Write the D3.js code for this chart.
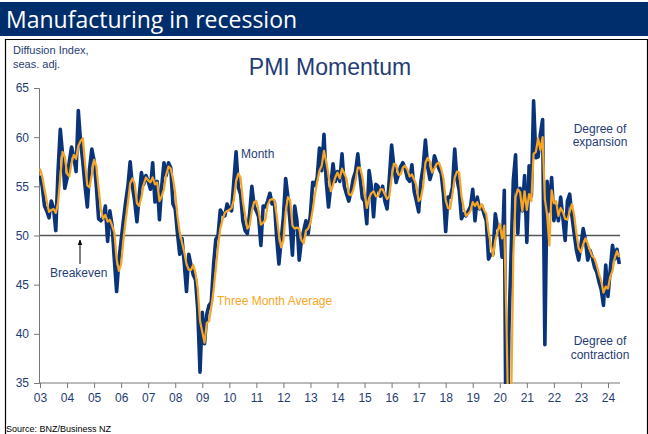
<!DOCTYPE html>
<html>
<head>
<meta charset="utf-8">
<script src="https://d3js.org/d3.v7.min.js"></script>
<style>
body { margin: 0; background: #fff; }
svg { display: block; font-family: "Liberation Sans", Arial, sans-serif; }
</style>
</head>
<body>
<script>
// PMI, seasonally adjusted, monthly from Jan 2003
const yearLabels = ["03","04","05","06","07","08","09","10","11","12","13","14",
                    "15","16","17","18","19","20","21","22","23","24"];
const yTicks = [35, 40, 45, 50, 55, 60, 65];

const pmiMonth = [
  56.1,55.0,53.0,52.5,51.8,53.5,52.8,50.5,56.5,60.8,58.3,54.8, // 03
  55.8,57.5,59.0,58.0,56.5,62.7,59.5,57.5,55.0,52.9,56.8,58.8, // 04
  57.6,55.0,51.7,51.5,51.8,53.0,49.4,52.5,51.0,47.5,44.3,47.5, // 05
  49.5,51.5,53.4,55.0,57.5,55.0,53.5,51.4,54.0,56.4,55.2,56.1, // 06
  55.5,54.7,57.4,53.4,55.5,51.6,55.0,57.4,56.1,57.4,56.9,53.2, // 07
  52.7,50.2,48.1,49.7,47.2,44.3,48.1,47.0,46.0,45.5,42.4,36.1, // 08
  42.2,39.0,42.0,42.9,43.2,47.0,49.6,50.0,52.6,52.2,52.0,53.2, // 09
  52.7,52.5,55.5,58.5,54.9,54.2,51.5,50.5,50.2,52.2,55.0,53.0, // 10
  52.5,51.9,49.0,53.0,52.9,53.5,54.3,53.2,53.4,49.8,47.1,49.5, // 11
  51.9,55.8,53.9,51.2,48.0,53.0,51.5,47.5,49.5,50.5,51.5,50.2, // 12
  52.2,55.4,55.1,55.9,58.9,56.6,60.3,55.5,52.9,55.0,57.3,55.5, // 13
  56.5,55.5,58.3,55.0,54.2,53.5,54.5,55.8,56.5,58.3,56.0,53.8, // 14
  53.5,51.2,56.6,55.0,51.9,55.2,55.0,54.0,55.0,53.5,52.7,55.8, // 15
  59.2,57.0,55.4,56.2,57.0,57.4,56.8,55.8,55.5,57.2,54.5,53.5, // 16
  52.4,55.5,57.0,59.7,57.0,55.7,56.5,58.1,57.4,56.8,56.3,54.2, // 17
  50.4,53.9,53.9,54.9,58.8,55.7,54.6,51.7,52.2,52.0,52.5,52.9, // 18
  54.7,51.5,53.9,52.7,53.0,52.2,51.5,47.6,48.1,48.1,52.2,50.8, // 19
  50.5,47.8,54.6,20.0,40.0,48.0,55.6,58.2,50.2,54.8,52.5,56.1, // 20
  49.3,57.1,54.0,63.7,57.9,58.0,60.3,61.8,38.9,55.5,52.5,55.9, // 21
  51.5,53.0,51.5,53.9,51.8,49.5,53.5,54.2,52.0,50.2,48.5,47.5, // 22
  49.0,50.7,49.5,47.5,48.5,47.8,46.8,46.3,45.3,44.5,42.9,47.0, // 23
  43.8,46.5,49.0,47.6,48.6,47.1                                // 24
];

const pmiThreeMonth = [
  56.8,56.0,54.7,53.5,52.4,52.6,52.7,52.3,53.3,55.9,58.5,58.0,
  56.3,56.0,57.4,58.2,57.8,59.1,59.6,59.9,57.3,55.1,54.9,56.2,
  57.7,57.1,54.8,52.7,51.7,52.1,51.4,51.6,51.0,50.3,47.6,46.4,
  47.1,49.5,51.5,53.3,55.3,55.8,55.3,53.3,53.0,53.9,55.2,55.9,
  55.6,55.4,55.9,55.2,55.4,53.5,54.0,54.7,56.2,57.0,56.8,55.8,
  54.3,52.0,50.3,49.3,48.3,47.1,46.5,46.5,47.0,46.2,44.6,41.3,
  40.2,39.1,41.1,41.3,42.7,44.4,46.6,48.9,50.7,51.6,52.3,52.5,
  52.6,52.8,53.6,55.5,56.3,55.9,53.5,52.1,50.7,51.0,52.5,53.4,
  53.5,52.5,51.1,51.3,51.6,53.1,53.6,53.7,53.6,52.1,50.1,48.8,
  49.5,52.4,53.9,53.6,51.0,50.7,50.8,50.7,49.5,49.2,50.5,50.7,
  51.3,52.6,54.2,55.5,56.6,57.1,58.6,57.5,56.2,54.5,55.1,55.9,
  56.4,55.8,56.8,56.3,55.8,54.2,54.1,54.6,55.6,56.9,56.9,56.0,
  54.4,52.8,53.8,54.3,54.5,54.0,54.0,54.7,54.7,54.2,53.7,54.0,
  55.9,57.3,57.2,56.2,56.2,56.9,57.1,56.7,56.0,56.2,55.7,55.1,
  53.5,53.8,55.0,57.4,57.9,57.5,56.4,56.8,57.3,57.4,56.8,55.8,
  53.6,52.8,52.7,54.2,55.9,56.5,56.4,54.0,52.8,52.0,52.2,52.5,
  53.4,53.0,53.4,52.7,53.2,52.6,52.2,50.4,49.1,47.9,49.5,50.4,
  51.2,49.7,51.0,40.8,28.0,32.0,47.9,53.9,54.7,54.4,52.5,54.5,
  52.6,54.2,53.5,58.3,58.5,59.9,58.7,60.0,53.7,52.1,49.0,54.6,
  53.3,53.5,52.0,52.8,52.4,51.7,51.6,52.4,53.2,52.1,50.2,48.7,
  48.3,49.1,49.7,49.2,48.5,47.9,47.7,47.0,46.1,45.4,44.2,44.8,
  44.6,45.8,46.4,47.7,48.4,47.8
];

const width = 648, height = 434;
const navy = "#1f3c74";
const blue = "#0a347a";
const orange = "#f8a622";

const svg = d3.select("body").append("svg")
    .attr("width", width)
    .attr("height", height);

// title bar
svg.append("rect")
    .attr("x", 0).attr("y", 2)
    .attr("width", width).attr("height", 34)
    .attr("fill", "#002e6d");
svg.append("text")
    .attr("x", 6).attr("y", 28)
    .attr("fill", "#fff")
    .style("font-family", "'Open Sans', sans-serif")
    .style("font-size", "23px")
    .text("Manufacturing in recession");

// frame round the chart
svg.append("path")
    .attr("d", "M5.5,440 V39.5 H647.5 V440")
    .attr("fill", "none")
    .attr("stroke", "#000")
    .attr("stroke-width", 1.2);

// scales
let x = d3.scaleLinear().domain([0, 257.2]).range([40, 619.7]);
let y = d3.scaleLinear().domain([35, 65]).range([383, 88]);

// headings
svg.append("text").attr("x", 13).attr("y", 54)
    .attr("fill", navy).style("font-size", "11px").text("Diffusion Index,");
svg.append("text").attr("x", 13).attr("y", 68)
    .attr("fill", navy).style("font-size", "11px").text("seas. adj.");
svg.append("text").attr("x", 330).attr("y", 75)
    .attr("text-anchor", "middle")
    .attr("fill", navy).style("font-size", "23px").text("PMI Momentum");

// breakeven line
svg.append("line")
    .attr("x1", 39).attr("x2", 620)
    .attr("y1", y(50)).attr("y2", y(50))
    .attr("stroke", "#555").attr("stroke-width", 1.5);

// axes
let yAxis = svg.append("g")
    .attr("transform", "translate(39,0)")
    .call(d3.axisLeft(y).tickValues(yTicks).tickSize(5).tickPadding(5));
let xAxis = svg.append("g")
    .attr("transform", "translate(0,383)")
    .call(d3.axisBottom(x)
        .tickValues(yearLabels.map((_, i) => i * 12))
        .tickFormat((d, i) => yearLabels[i])
        .tickSize(5).tickPadding(5));
xAxis.select(".domain").attr("d", "M39,0H620");
[xAxis, yAxis].forEach(g => {
    g.select(".domain").attr("stroke", "#777");
    g.selectAll(".tick line").attr("stroke", "#777");
    g.selectAll("text")
        .attr("fill", navy)
        .style("font-size", "12px")
        .style("font-family", "'Liberation Sans', Arial, sans-serif");
});

// clip to plot area
svg.append("clipPath").attr("id", "plot")
    .append("rect").attr("x", 39).attr("y", 80).attr("width", 585).attr("height", 304);

let line = d3.line()
    .x((d, i) => x(i))
    .y(d => y(d));

let lines = svg.append("g").attr("clip-path", "url(#plot)");
lines.append("path")
    .datum(pmiMonth)
    .attr("d", line)
    .attr("fill", "none")
    .attr("stroke", blue)
    .attr("stroke-width", 3.6)
    .attr("stroke-linejoin", "round");
lines.append("path")
    .datum(pmiThreeMonth)
    .attr("d", line)
    .attr("fill", "none")
    .attr("stroke", orange)
    .attr("stroke-width", 2.2)
    .attr("stroke-linejoin", "round");

// annotations
svg.append("text").attr("x", 241).attr("y", 158)
    .attr("fill", navy).style("font-size", "12px").text("Month");
svg.append("text").attr("x", 217).attr("y", 305)
    .attr("fill", orange).style("font-size", "12px").text("Three Month Average");
svg.append("text").attr("x", 50).attr("y", 277)
    .attr("fill", navy).style("font-size", "12px").text("Breakeven");

svg.append("defs").append("marker")
    .attr("id", "arrow")
    .attr("viewBox", "0 0 10 10")
    .attr("refX", 9).attr("refY", 5)
    .attr("markerWidth", 6).attr("markerHeight", 6)
    .attr("orient", "auto")
    .append("path").attr("d", "M0,1 L10,5 L0,9 Z").attr("fill", "#000");
svg.append("line")
    .attr("x1", 80).attr("x2", 80)
    .attr("y1", 264).attr("y2", 240)
    .attr("stroke", "#000").attr("stroke-width", 1)
    .attr("marker-end", "url(#arrow)");

[["Degree of", 133], ["expansion", 146], ["Degree of", 345], ["contraction", 359]]
    .forEach(([t, ty]) => {
        svg.append("text").attr("x", 600).attr("y", ty)
            .attr("text-anchor", "middle")
            .attr("fill", navy).style("font-size", "12px").text(t);
    });

svg.append("text").attr("x", 6).attr("y", 432)
    .attr("fill", "#000").style("font-size", "9px").text("Source: BNZ/Business NZ");
</script>
</body>
</html>
